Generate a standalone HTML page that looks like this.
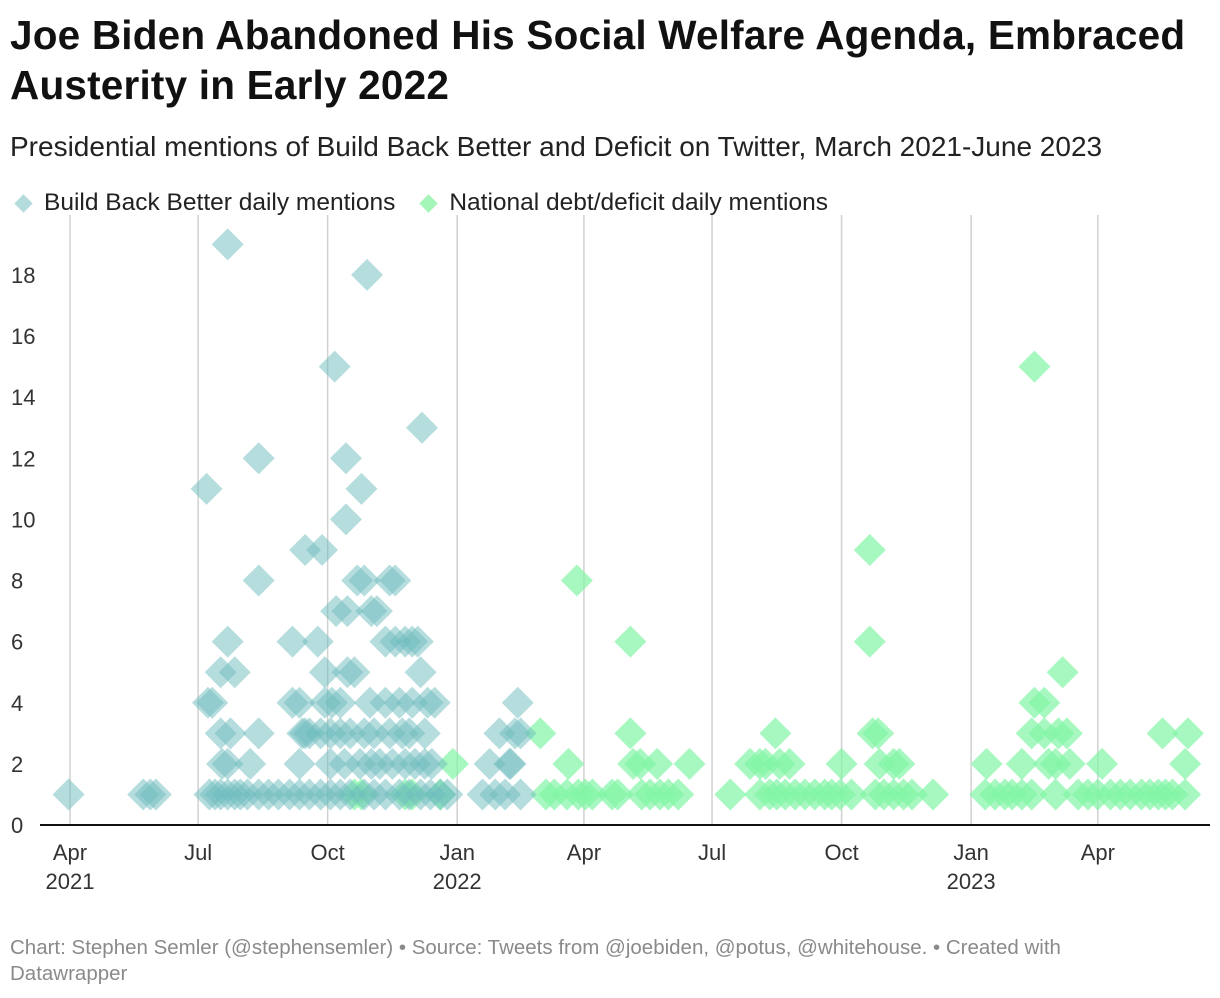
<!DOCTYPE html>
<html><head><meta charset="utf-8"><style>
body{margin:0;background:#fff;font-family:"Liberation Sans",Arial,sans-serif;}
.wrap{position:relative;width:1220px;height:998px;overflow:hidden}
h1{position:absolute;left:10px;top:10px;margin:0;font-size:40.5px;line-height:50px;font-weight:bold;color:#111;width:1205px;letter-spacing:0.2px}
.sub{position:absolute;left:10px;top:131px;font-size:28px;color:#222;white-space:nowrap}
.legend{position:absolute;left:12px;top:189px;font-size:24.5px;color:#222;display:flex;gap:22px;white-space:nowrap}
.legend span{display:flex;align-items:center}
.dia{display:inline-block;width:13px;height:13px;transform:rotate(45deg);margin:0 14px 0 5px}
.foot{position:absolute;left:10px;top:935px;font-size:20.5px;line-height:26px;color:#8a8a8a;width:1125px}
</style></head><body>
<div class="wrap">
<h1>Joe Biden Abandoned His Social Welfare Agenda, Embraced Austerity in Early 2022</h1>
<div class="sub">Presidential mentions of Build Back Better and Deficit on Twitter, March 2021-June 2023</div>
<div class="legend">
<span><i class="dia" style="background:#b5dcdc"></i>Build Back Better daily mentions</span>
<span><i class="dia" style="background:#a3f5b8"></i>National debt/deficit daily mentions</span>
</div>
<svg id="plot" width="1220" height="998" style="position:absolute;left:0;top:0"></svg>
<div class="foot">Chart: Stephen Semler (@stephensemler) • Source: Tweets from @joebiden, @potus, @whitehouse. • Created with Datawrapper</div>
</div>
<script>
// days since 2021-04-01
const bbbDays=[-1,52,57,61,97,112,134,134,112,107,117,98,101,107,114,134,108,112,128,99,103,107,112,117,121,126,134,141,148,156,163,158,163,158,167,179,165,170,163,167,176,181,188,196,196,207,211,189,197,204,209,214,218,227,231,224,231,238,243,247,250,249,181,186,192,197,202,213,224,234,243,254,259,178,185,192,199,209,216,227,236,241,252,185,195,206,214,220,229,238,245,252,257,170,178,185,192,199,209,216,224,234,241,249,256,263,268,298,293,302,309,318,316,320,312,305,320,313];
const bbbVals=[1,1,1,1,11,19,12,8,6,5,5,4,4,3,3,3,2,2,2,1,1,1,1,1,1,1,1,1,1,1,1,6,4,4,9,9,3,3,2,3,6,5,15,12,10,11,18,7,7,8,8,7,7,8,8,6,6,6,6,6,13,5,4,4,4,5,5,4,4,4,4,4,4,3,3,3,3,3,3,3,3,3,3,2,2,2,2,2,2,2,2,2,2,1,1,1,1,1,1,1,1,1,1,1,1,1,1,2,1,1,1,4,3,3,2,3,1,2];
const debtDays=[202,207,238,243,263,272,334,338,344,354,353,361,366,371,360,385,389,398,398,400,405,406,412,417,419,425,432,440,469,483,490,494,501,504,511,490,497,502,508,515,522,529,536,541,547,548,555,568,568,570,574,575,585,589,572,578,585,592,598,613,651,676,685,685,692,705,683,692,702,708,695,700,710,733,776,794,792,650,657,664,669,676,683,700,716,723,730,739,746,753,761,767,773,778,783,792];
const debtVals=[1,1,1,1,1,2,3,1,1,2,1,1,1,1,8,1,1,6,3,2,2,1,1,2,1,1,1,2,1,2,2,2,3,2,2,1,1,1,1,1,1,1,1,1,1,2,1,9,6,3,3,2,2,2,1,1,1,1,1,1,2,2,15,4,4,5,3,3,3,3,2,2,2,2,3,3,2,1,1,1,1,1,1,1,1,1,1,1,1,1,1,1,1,1,1,1];
const yTicks=[0,2,4,6,8,10,12,14,16,18];
const xTicks=[[0,"Apr","2021"],[91,"Jul",""],[183,"Oct",""],[275,"Jan","2022"],[365,"Apr",""],[456,"Jul",""],[548,"Oct",""],[640,"Jan","2023"],[730,"Apr",""]];
const X=d=>70+d*1.408, Y=v=>825-v*30.56;
const svg=document.getElementById('plot'),NS='http://www.w3.org/2000/svg';
function mk(t,a,p){const e=document.createElementNS(NS,t);for(const k in a)e.setAttribute(k,a[k]);(p||svg).appendChild(e);return e;}
xTicks.forEach(t=>{
 const l=mk('line',{x1:X(t[0]),x2:X(t[0]),y1:215,y2:825,stroke:'#d0d0d0','stroke-width':1.5});
 
 
 const a=mk('text',{x:X(t[0]),y:860,'text-anchor':'middle','font-size':22,fill:'#333'});a.textContent=t[1];
 
 
 if(t[2]){const b=mk('text',{x:X(t[0]),y:889,'text-anchor':'middle','font-size':22,fill:'#333'});b.textContent=t[2];
 
 }
});
yTicks.forEach(v=>{const t=mk('text',{x:11,y:Y(v)+8,'font-size':22,fill:'#333'});t.textContent=v;
 
 });
function dia(d,v,fill,name){const x=X(d),y=Y(v),r=16;
 const p=mk('polygon',{points:`${x},${y-r} ${x+r},${y} ${x},${y+r} ${x-r},${y}`,fill:fill});
 
 }
debtDays.forEach((d,i)=>dia(d,debtVals[i],'rgba(130,245,165,0.7)','deficit-point'));
bbbDays.forEach((d,i)=>dia(d,bbbVals[i],'rgba(110,188,190,0.5)','bbb-point'));
const ax=mk('line',{x1:40,x2:1210,y1:825,y2:825,stroke:'#111','stroke-width':2});


</script>
</body></html>
